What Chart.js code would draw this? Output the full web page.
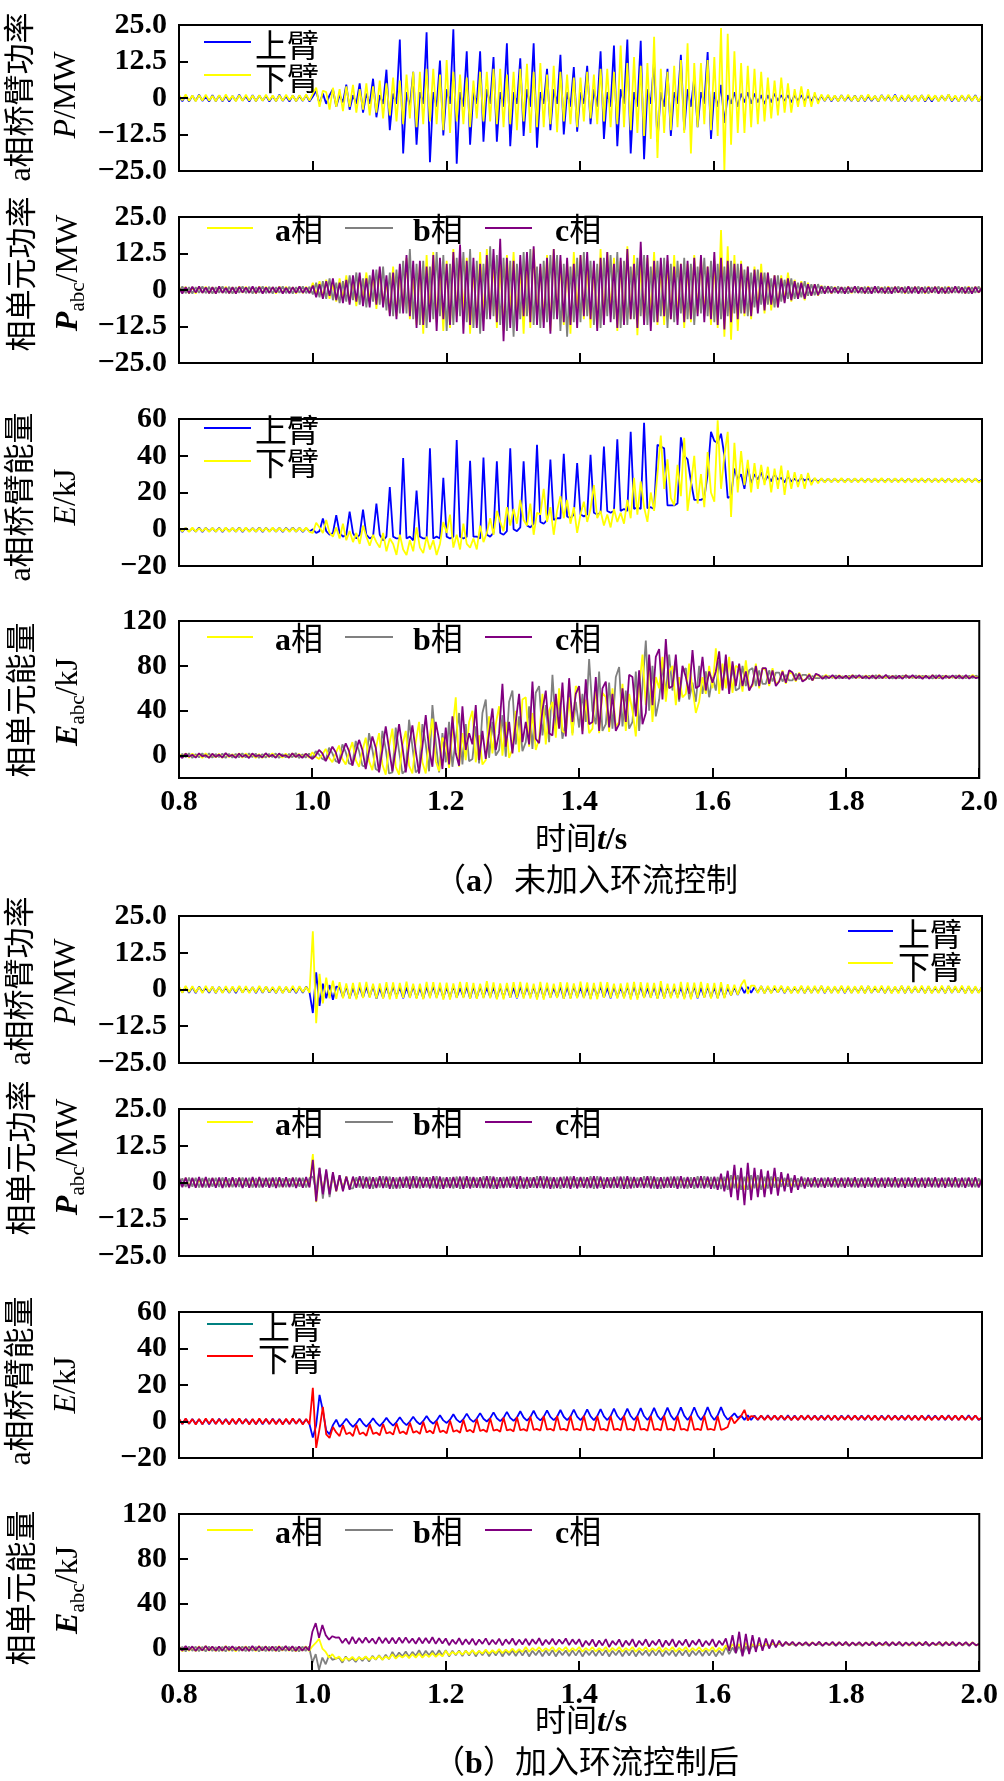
<!DOCTYPE html>
<html><head><meta charset="utf-8">
<script src="https://cdn.jsdelivr.net/npm/chart.js@4.4.0/dist/chart.umd.min.js"></script>
<style>
html,body{margin:0;padding:0;background:#fff}
body{width:1004px;height:1781px;position:relative;overflow:hidden}
.t{position:absolute;white-space:nowrap;line-height:1;color:#000}
.cj{font-family:"Noto Sans CJK SC","Noto Sans CJK JP",sans-serif;font-size:31px}
.sf{font-family:"Liberation Serif","Times New Roman",serif;font-size:32px}
.sa{font-family:"Liberation Serif","Times New Roman",serif;font-size:32px}
.rv{transform:translate(-50%,-50%) rotate(-90deg)}
.ct{transform:translate(-50%,-50%)}
.cap{font-size:32px}
.lg{transform:translateY(-50%);font-size:32px}
.ln{position:absolute;height:2px}
sub{font-size:21px;vertical-align:-7px;line-height:0}
</style></head>
<body>
<div id="texts">
<div class="t cj rv" style="left:18px;top:97px"><span class="sa">a</span>相桥臂功率</div>
<div class="t cj rv" style="left:18px;top:274px">相单元功率</div>
<div class="t cj rv" style="left:18px;top:497px"><span class="sa">a</span>相桥臂能量</div>
<div class="t cj rv" style="left:18px;top:700px">相单元能量</div>
<div class="t cj rv" style="left:18px;top:981px"><span class="sa">a</span>相桥臂功率</div>
<div class="t cj rv" style="left:18px;top:1158px">相单元功率</div>
<div class="t cj rv" style="left:18px;top:1381px"><span class="sa">a</span>相桥臂能量</div>
<div class="t cj rv" style="left:18px;top:1588px">相单元能量</div>
<div class="t sf rv" style="left:64px;top:95px"><i>P</i>/MW</div>
<div class="t sf rv" style="left:66px;top:273px"><b><i>P</i></b><sub>abc</sub>/MW</div>
<div class="t sf rv" style="left:64px;top:497px"><i>E</i>/kJ</div>
<div class="t sf rv" style="left:66px;top:702px"><b><i>E</i></b><sub>abc</sub>/kJ</div>
<div class="t sf rv" style="left:64px;top:982px"><i>P</i>/MW</div>
<div class="t sf rv" style="left:66px;top:1157px"><b><i>P</i></b><sub>abc</sub>/MW</div>
<div class="t sf rv" style="left:64px;top:1385px"><i>E</i>/kJ</div>
<div class="t sf rv" style="left:66px;top:1590px"><b><i>E</i></b><sub>abc</sub>/kJ</div>

<div class="t cj ct" style="left:581px;top:837px">时间<b class="sf"><i>t</i>/s</b></div>
<div class="t cj ct cap" style="left:586px;top:878px">（<b class="sf">a</b>）未加入环流控制</div>
<div class="t cj ct" style="left:581px;top:1719px">时间<b class="sf"><i>t</i>/s</b></div>
<div class="t cj ct cap" style="left:586px;top:1760px">（<b class="sf">b</b>）加入环流控制后</div>

<div class="ln" style="left:204px;top:41px;width:47px;background:#0000ff"></div>
<div class="t cj lg" style="left:255px;top:43px">上臂</div>
<div class="ln" style="left:204px;top:74px;width:47px;background:#ffff00"></div>
<div class="t cj lg" style="left:255px;top:76px">下臂</div>

<div class="ln" style="left:207px;top:227px;width:46px;background:#ffff00"></div>
<div class="t cj lg" style="left:275px;top:228px"><b class="sa">a</b>相</div>
<div class="ln" style="left:345px;top:227px;width:48px;background:#808080"></div>
<div class="t cj lg" style="left:413px;top:228px"><b class="sa">b</b>相</div>
<div class="ln" style="left:485px;top:227px;width:47px;background:#800080"></div>
<div class="t cj lg" style="left:555px;top:228px"><b class="sa">c</b>相</div>

<div class="ln" style="left:204px;top:427px;width:47px;background:#0000ff"></div>
<div class="t cj lg" style="left:255px;top:428px">上臂</div>
<div class="ln" style="left:204px;top:460px;width:47px;background:#ffff00"></div>
<div class="t cj lg" style="left:255px;top:461px">下臂</div>

<div class="ln" style="left:207px;top:636px;width:46px;background:#ffff00"></div>
<div class="t cj lg" style="left:275px;top:637px"><b class="sa">a</b>相</div>
<div class="ln" style="left:345px;top:636px;width:48px;background:#808080"></div>
<div class="t cj lg" style="left:413px;top:637px"><b class="sa">b</b>相</div>
<div class="ln" style="left:485px;top:636px;width:47px;background:#800080"></div>
<div class="t cj lg" style="left:555px;top:637px"><b class="sa">c</b>相</div>

<div class="ln" style="left:848px;top:930px;width:45px;background:#0000ff"></div>
<div class="t cj lg" style="left:898px;top:932px">上臂</div>
<div class="ln" style="left:848px;top:962px;width:45px;background:#ffff00"></div>
<div class="t cj lg" style="left:898px;top:965px">下臂</div>

<div class="ln" style="left:207px;top:1121px;width:46px;background:#ffff00"></div>
<div class="t cj lg" style="left:275px;top:1122px"><b class="sa">a</b>相</div>
<div class="ln" style="left:345px;top:1121px;width:48px;background:#808080"></div>
<div class="t cj lg" style="left:413px;top:1122px"><b class="sa">b</b>相</div>
<div class="ln" style="left:485px;top:1121px;width:47px;background:#800080"></div>
<div class="t cj lg" style="left:555px;top:1122px"><b class="sa">c</b>相</div>

<div class="ln" style="left:207px;top:1323px;width:46px;background:#008080"></div>
<div class="t cj lg" style="left:258px;top:1325px">上臂</div>
<div class="ln" style="left:207px;top:1355px;width:46px;background:#ff0000"></div>
<div class="t cj lg" style="left:258px;top:1357px">下臂</div>

<div class="ln" style="left:207px;top:1529px;width:46px;background:#ffff00"></div>
<div class="t cj lg" style="left:275px;top:1530px"><b class="sa">a</b>相</div>
<div class="ln" style="left:345px;top:1529px;width:48px;background:#808080"></div>
<div class="t cj lg" style="left:413px;top:1530px"><b class="sa">b</b>相</div>
<div class="ln" style="left:485px;top:1529px;width:47px;background:#800080"></div>
<div class="t cj lg" style="left:555px;top:1530px"><b class="sa">c</b>相</div>
</div>
<script>
// ---------- time axis (sample instants, 0.8 s .. 2.0 s every 5 ms) ----------
const T_START = 0.8, T_STEP = 0.005, N_SAMPLES = 241;
const X_TICKS = [0.8, 1.0, 1.2, 1.4, 1.6, 1.8, 2.0];
const Y_TICKS_P = [-25, -12.5, 0, 12.5, 25];
const Y_TICKS_E_ARM = [-20, 0, 20, 40, 60];
const Y_TICKS_E_PH = [0, 40, 80, 120];

// ---------- (a) without circulating-current control ----------
const a_P_up = [
0.6,-1.1,0.9,-1.2,0.8,-1.0,1.1,-1.0,0.5,-1.2,1.0,-1.1,0.9,-1.1,0.8,-1.2,0.7,-1.0,1.1,-0.9,0.6,-1.2,1.0,-1.1,0.9,-0.9,0.8,-1.2,0.7,-1.1,1.1,-1.0,0.6,-1.2,0.9,-1.1,0.8,-1.0,1.0,-1.2,
0.5,2.5,-2,1.5,-2,1,3,-3,1,-1.5,4.6,-4,1,-2,5,-5,1.5,-2,6.6,-6.6,1,-2,9.7,-11,1.5,-2,20,-19,2,-3,9,-16,2,-2,22.5,-22,2,-3,12.8,-12.8,
3,-2,23.5,-22.5,2,-3,16,-16,2,-2,16,-15,3,-2,14,-15,2,-3,18.7,-16.5,2,-2,13.6,-13,3,-3,18.7,-17,2,-2,10,-11,3,-2,14.8,-12.5,2,-3,10.6,-11.5,
2,-2,11,-9,3,-3,16,-14,2,-3,18,-16.5,3,-2,20,-19,2,-3,19.6,-21,3,-2,12.7,-15,2,-3,10,-13,2,-2,14.8,-11,3,-3,7,-10,2,-2,15.7,-14,
2,-3,4.5,-8.5,1,-2,2,-3,1.5,-1.5,2,-2,1.5,-1.5,1,-2,1,-1.5,1.5,-1,1,-1,1,-1.5,1,-1,1,-1,0.8,-1.1,1,-1,0.7,-1.0,0.9,-1.1,0.8,-1.1,1.0,-1.0,
0.6,-1.0,0.9,-1.2,0.9,-1.1,0.8,-1.0,0.7,-1.2,1.0,-0.9,0.8,-1.0,1.1,-1.1,0.6,-1.1,0.9,-1.0,0.9,-1.0,1.0,-1.2,0.7,-1.2,0.8,-1.0,0.8,-0.9,1.1,-1.1,0.6,-1.1,0.9,-1.0,0.9,-1.0,1.0,-1.2,
0.6];
const a_P_lo = [
1.0,-0.8,1.2,-1.0,0.9,-1.1,1.0,-0.9,1.1,-0.9,0.8,-1.1,1.0,-1.0,1.2,-0.8,0.8,-1.1,1.0,-1.0,1.1,-0.9,0.9,-1.1,1.0,-1.0,1.1,-0.9,0.9,-1.1,1.0,-1.0,1.1,-0.8,0.9,-1.1,1.0,-1.0,1.2,-0.9,
1.5,3.5,-3,2.5,2,-4,3.5,-3,3,-4.5,4,-3,4.5,-5,3,-4,5,-6,4,-5,6,-7,5,-6,7,-8,6,-9,8,-7,9,-10,9,-9,10,-8,10,-9,8,-11,
13,-12,9,-8,8,-9,7,-10,6,-7,9,-8,9,-8,10,-9,10,-10,8,-9,9,-11,10,-8,11.7,-12,9,-10,12,-10,8,-9,11,-11.7,9,-8,8,-9,7,-10,
7,-8,9,-7,8,-9,10,-8,10,-10,9,-9,18,-10,12,-11,14,-12,11,-13,12,-14,21,-20.5,10,-12,9,-11,11,-10,13,-12,18.7,-19,12,-10,12,-9,13,-11,
14,-13,24,-25,22,-16,16,-12,12,-12,11,-10,10,-9,9,-8,7,-7,6,-6,7,-5,5,-5,3,-3,4,-3,3,-3,2,-2,1.2,-1.0,1.1,-0.9,0.9,-1.1,1.0,-1.0,
1.1,-0.9,0.8,-1.1,1.0,-1.0,1.2,-0.8,0.8,-1.1,1.0,-1.0,1.1,-0.9,0.9,-1.1,1.0,-1.0,1.1,-0.9,0.9,-1.1,1.0,-1.0,1.1,-0.8,0.9,-1.1,1.0,-1.0,1.2,-0.9,0.9,-1.1,1.0,-1.0,1.1,-0.9,0.8,-1.1,
1.0];
const a_Pa = [
1.2,-1.0,1.1,-1.2,1.0,-1.2,1.2,-1.0,1.1,-1.1,1.0,-1.2,1.2,-1.0,1.1,-1.1,1.0,-1.2,1.2,-1.0,1.1,-1.0,1.0,-1.2,1.2,-1.1,1.1,-1.0,1.0,-1.2,1.2,-1.1,1.1,-1.0,1.0,-1.2,1.2,-1.1,1.1,-1.0,
2.5,-1.5,3,-2.5,3.5,-3,2,-4,4,-3,5,-4.5,3,-5.5,4.5,-3,6,-4,5,-6.5,7,-5,3,-8,8,-9,6,-7,11,-10,5,-12,9,-15,12,-8,13,-11,7,-14,
10,-13,14,-9,12,-8,11,-15,8,-12,13,-10,14,-9,10,-13,9,-14,12,-8,13,-10,8,-15,11,-13,14,-9,8,-11,12,-14,14,-9,10,-12,10,-15,13,-8,
12,-10,9,-13,9,-13,14,-11,13,-8,11,-14,10,-12,15,-10,12,-15.5,9,-11,11,-9,13,-12,8,-12,10,-10,12,-10,9,-13,9,-11,12,-8,11,-9,8,-12,
10,-13,20.5,-16,15,-17,12,-14,10,-9,8,-10,8,-7,9,-8,6,-7,5,-6,5,-4,6,-4,3.5,-3,3,-3.5,2.5,-2,2,-2,1.5,-1.2,1.3,-1.2,1.1,-1.0,1.0,-1.2,
1.2,-1.1,1.1,-1.0,1.0,-1.2,1.2,-1.1,1.1,-1.0,1.0,-1.2,1.2,-1.1,1.1,-1.0,1.0,-1.2,1.2,-1.0,1.1,-1.1,1.0,-1.2,1.2,-1.0,1.1,-1.1,1.0,-1.2,1.2,-1.0,1.1,-1.0,1.0,-1.2,1.2,-1.1,1.1,-1.0,
1.1];
const a_Pb = [
-1.0,1.2,-1.1,1.0,-1.2,1.0,-1.0,1.2,-1.1,1.1,-1.2,1.0,-1.0,1.2,-1.1,1.1,-1.2,1.0,-1.0,1.2,-1.1,1.1,-1.2,1.0,-1.0,1.2,-1.1,1.1,-1.2,1.0,-1.0,1.2,-1.1,1.1,-1.2,1.0,-1.0,1.2,-1.1,1.1,
-1.5,2.5,-2.5,3,-3,4,-3.5,2.5,-4.5,3,-4,5,-3.5,6,-5,4,-6,5,-4,7,-5,8,-7,6,-9,7,-8,10,-8,14,-10,9,-12,10,-13,8,-10,13,-9,12,
-14,9,-12,11,-9,13,-11,14,-13,10,-15,9,-10,15,-9,12,-12,11,-14,10,-16,9,-10,13,-9,14,-12,8,-13,10,-11,12,-10,12,-14,9,-16,8,-11,11,
-11,13,-9,10,-12,9,-13,11,-9,12,-10,13,-13,10,-12,8,-10,11,-9,12,-12,8,-11,10,-9,11,-13,9,-11,10,-8,11,-10,9,-12,8,-8,11,-9,10,
-11,9,-10,8,-9,10,-8,9,-8,7,-9,6,-6,7,-5,6,-5,4,-6,5,-4,3.5,-3,4,-3,2.5,-2.5,3,-2,2,-1.8,2,-1.2,1.3,-1.1,1.2,-1.0,1.2,-1.1,1.0,
-1.2,1.0,-1.0,1.2,-1.1,1.1,-1.2,1.0,-1.0,1.2,-1.1,1.1,-1.2,1.0,-1.0,1.2,-1.1,1.1,-1.2,1.0,-1.0,1.2,-1.1,1.1,-1.2,1.0,-1.0,1.2,-1.1,1.1,-1.2,1.0,-1.0,1.2,-1.1,1.1,-1.2,1.0,-1.0,1.2,
-1.0];
const a_Pc = [
0.8,-1.2,1.0,-1.1,1.1,-0.9,1.2,-1.0,0.9,-1.1,1.0,-1.2,1.2,-1.0,0.8,-1.1,1.0,-1.2,1.1,-0.9,0.9,-1.0,1.2,-1.1,1.1,-1.2,0.9,-1.0,1.0,-0.9,1.1,-1.2,0.8,-1.1,1.0,-1.0,1.2,-1.0,0.9,-1.1,
1.5,-2.5,2,-3,3,-2,4,-3.5,2.5,-4.5,3.5,-5,5,-4,6,-5.5,4,-6,7,-5,8,-6,5,-9,6,-10,9,-8,12,-9,10,-13,10,-12,8,-11,12,-14,11,-10,
9,-12,13,-11,15.6,-15,10,-12,11,-13,9,-14,12,-10,14,-11,17.5,-17.5,11,-13,10,-14,12,-9,13,-11,15,-12,9,-13,11,-15,14,-10,12,-11,11,-12,9,-13,
12,-9,13,-10,10,-14,11,-12,13,-11,9,-13,11,-12,14,-10,9,-13,16.5,-12,12,-14,10,-11,11,-9,12,-10,8,-12,9,-11,10,-10,11,-9,12,-11,8,-10,
13,-12,11,-13.5,10,-11,9,-10,9,-8,8,-9,7,-8,6,-7,6,-5,5,-6,4,-4.5,4,-3.5,3,-3,2.5,-3,2,-2,2,-1.8,1.3,-1.2,1.2,-1.1,0.9,-1.1,1.0,-1.2,
1.1,-0.9,1.2,-1.0,0.9,-1.1,1.0,-1.2,1.2,-1.0,0.8,-1.1,1.0,-1.2,1.1,-0.9,0.9,-1.0,1.2,-1.1,1.1,-1.2,0.9,-1.0,1.0,-0.9,1.1,-1.2,0.8,-1.1,1.0,-1.0,1.2,-1.0,0.9,-1.1,1.0,-1.2,1.1,-0.9,
0.9];
const a_E_up = [
0.6,-1.4,0.8,-1.2,0.5,-1.3,0.9,-1.4,0.7,-1.2,0.6,-1.3,0.8,-1.4,0.7,-1.2,0.6,-1.3,0.9,-1.4,0.7,-1.2,0.6,-1.3,0.9,-1.4,0.8,-1.2,0.6,-1.3,0.7,-1.4,0.8,-1.2,0.9,-1.3,0.7,-1.4,0.6,-1.2,
0,-2,-1,5.9,-1,-3,-2,7.6,-2,-4,-3,9.6,-2,-5,-3,10.7,-3,-5,-4,13.9,-3,-6,-4,23,-4,-5,-5,38.7,-5,-4,-6,21,-4,-5,-5,44,-5,-4,-5,28,
-4,-5,-4,48.6,-4,-5,-4,37.3,-4,-4,-5,39,-3,-4,-2,37,-2,-3,-1,44,0,-1,1,37,2,1,3,46,4,3,5,38,5,6,6,41,7,6,8,36,
8,7,8,40.5,9,8,9,45,10,9,10,49,10,11,10,53,11,12,11,58,11.5,12,11,46,45,44,13,13,13,14,50,40,38,26,16,16,16,17,30,53,
48,47,52,40,17,18,33,27,30,22,34,25,30,27,31,26,29,26,30,27,28,25.5,29,26,27.5,26,28,26.5,27.6,25.8,27.5,25.9,27.4,25.7,27.6,25.8,27.5,25.9,27.4,25.7,
27.6,25.8,27.5,25.9,27.4,25.7,27.6,25.8,27.5,25.9,27.4,25.7,27.6,25.8,27.5,25.9,27.4,25.7,27.6,25.8,27.5,25.9,27.4,25.7,27.6,25.8,27.5,25.9,27.4,25.7,27.6,25.8,27.5,25.9,27.4,25.7,27.6,25.8,27.5,25.9,
27.0];
const a_E_lo = [
0.8,-1.2,0.7,-1.4,0.9,-1.3,0.6,-1.2,0.7,-1.4,0.8,-1.3,0.6,-1.2,0.9,-1.4,0.8,-1.3,0.7,-1.2,0.9,-1.4,0.6,-1.3,0.7,-1.2,0.8,-1.4,0.9,-1.3,0.7,-1.2,0.6,-1.4,0.8,-1.3,0.7,-1.2,0.9,-1.4,
-2,3.5,1,-2,5,-2,-4,1,-5,3,-6,-1,-7,-2,-8,2,-4,-9,-3,-7,-10,-2,-12,-5,-8,-14,-3,-11,-14,-6,-12,1,-10,-13,-4,-11,-6,-14,-8,4,
-2,8,-10,-3,-11,3,-8,-10,-5,-11,2,-7,-2,6,-3,10,4,-1,12,2,11,3,16,5,2,14,-3,9,8,22,4,12,-3,10,18,6,16,3,12,-2,
8,15,4,11,24,6,10,2,8,1,11,4,9,3,16,6,28,8,26,12,4,20,10,30,51,22,38,17,13,35,18,49.8,10,24,40,14,30,12,42,20,
15,59.3,22,40,53,6.7,47,20,42.6,24,37.8,20,36,22,35,24,34,20,33,22,34.6,18.7,32,22,31,23,30,22,30.6,24,28,25,27.8,25.4,27.6,25.6,27.7,25.5,27.8,25.4,
27.6,25.6,27.7,25.5,27.8,25.4,27.6,25.6,27.7,25.5,27.8,25.4,27.6,25.6,27.7,25.5,27.8,25.4,27.6,25.6,27.7,25.5,27.8,25.4,27.6,25.6,27.7,25.5,27.8,25.4,27.6,25.6,27.7,25.5,27.8,25.4,27.6,25.6,27.7,25.5,
26.8];
const a_Ea = [
1.5,-1.5,2,-2,1.8,-1.2,1.6,-2.2,2,-1.8,1.4,-1.6,1.6,-2,1.9,-1.4,1.2,-1.7,2.1,-1.9,1.9,-1.3,1.5,-2.1,1.4,-2.2,1.8,-1.5,2.1,-1.6,1.3,-1.8,1.7,-1.9,2,-1.3,1.5,-1.4,1.8,-2.0,
3,-1,-3,1,6,-2,-6,2,9,-3,-8,3,12,-4,-10,4,16,-5,-13,6,20,-8,-17,8,24,-10,-17,9,22,-9,-16,12,30,-6,-16,14,33,-5,-14,16,
10,-11,22,52,-10,20,-4,30,40,-6,18,-8,-4,35,2,28,44,0,30,-2,6,40,3,50,52,8,38,5,15,55,10,40,48,16,60,22,20,52,18,62,
58,22,50,20,24,62,20,56,52,21,60,26,30,64,22,55,40,17,60,90,45,85,30,70,60,88,48,75,80,45,70,52,55,82,60,38,48,70,55,80,
60,95.6,55,82,60,88,56,80,78,57,85,60,62,82,60,78,76,62,78,64,66,76,64,74,73,66,74,67,68,73,67,72,71,69,72,69.5,70.5,68.8,71.6,69.2,
71.2,69.3,71.8,68.9,70.8,69,71.5,69.4,71.4,68.7,71.9,69.1,70.6,69.2,71.3,68.8,71.1,69.4,71.7,69,70.9,68.9,71.5,69.3,71.3,69.1,71.8,68.7,70.7,69.3,71.4,69,71,68.8,71.6,69.2,71.2,69,71.9,69.4,
70.5];
const a_Eb = [
-1.8,1.6,-1.4,2.0,-2.1,1.3,-1.7,1.9,-1.5,2.1,-1.9,1.4,-1.3,1.8,-2.2,1.6,-1.9,1.5,-1.6,2.1,-1.6,2,-1.3,1.7,-2,1.4,-1.8,1.5,-1.4,1.9,-2.1,1.3,-1.7,1.6,-1.5,2.2,-2.2,1.2,-1.9,1.8,
-2,4,1,-3,-4,7,2,-5,-6,10,3,-7,-8,13,4,-9,-10,20,5,-12,-14,22,6,-16,-15,25,4,-16,-13,32,8,-15,-12,28,10,-14,45,12,-15,20,
-6,30,-10,15,38,-8,28,-5,-3,26,-7,38,50,-2,30,0,5,36,-1,48,58,10,35,4,12,44,6,56,62,18,45,12,72,25,50,15,30,60,20,48,
25,55,30,86,40,28,75,22,28,65,24,70,79,26,58,24,30,75,22,62,102.6,40,80,35,50,80,55,90,58,85,48,75,78,50,65,48,80,55,75,52,
70,58,85,60,82,60,78,58,60,80,62,76,78,62,76,64,64,76,66,74,74,66,72,67,67,73,68,72,72,68,71,69,69,71,68.5,71,69.3,71.4,68.8,70.8,
68.9,71.2,69.1,71.5,69.4,70.9,68.6,71.3,69,71.6,68.9,70.7,69.2,71.1,68.7,71.4,68.8,71.3,69.3,70.9,69.1,71.5,68.9,71.2,69.3,70.8,68.6,71.6,68.9,71.2,69.2,71,69.4,71.4,68.8,70.9,69,71.1,69.1,71.3,
69.5];
const a_Ec = [
0.5,-2.2,1.8,-1.0,0.8,-1.9,2.0,-0.7,0.4,-2.1,1.6,-1.2,0.9,-1.8,2.2,-0.8,0.6,-2.0,1.7,-1.1,0.7,-2.2,1.9,-0.9,0.5,-1.7,2.1,-1.0,0.8,-2.0,1.8,-0.6,0.4,-1.9,2.0,-1.2,0.9,-2.1,1.6,-0.8,
-3,0,5,2,-5,1,8,3,-7,2,11,4,-9,3,14,5,-12,4,17,7,-15,5,26,6,-14,6,28,8,-15,10,27,4,-16,8,36,6,-10,30,14,-12,
25,-8,35,2,-9,44,5,20,10,45,-4,22,-3,20,42,5,20,64,8,30,2,30,55,12,30,10,66,15,11,40,58,20,18,55,24,65,17,69,30,55,
62,19,68,28,30,70,22,60,66,25,55,22,28,60,30,72,70,35,76,28,38,90,45,88,95,50,104,60,62,90,50,80,70,55,94,60,62,88,58,75,
65,75,93,58,90,55,84,62,82,62,75,58,64,80,62,78,78,64,76,62,66,75,65,76,74,67,73,66,68,72,67,73,71.5,68.5,71,69,71.8,68.7,71.2,68.9,
71.3,68.4,71.6,69.1,71.7,68.9,70.9,68.6,71.4,68.6,71.5,69,71.9,68.8,71.1,68.7,71.2,68.5,71.7,69.2,71.6,69,71,68.5,71.3,68.7,71.8,68.9,71.7,68.4,71.2,69.1,71.5,68.9,71.4,68.6,71.8,68.6,71,69,
70];

// ---------- (b) with circulating-current control ----------
const b_P_up = [
0.7,-1.0,0.9,-1.1,0.8,-1.2,1.0,-0.9,0.6,-1.1,0.9,-1.2,0.9,-1.0,0.7,-1.1,0.8,-1.2,1.0,-1.0,0.7,-0.9,0.8,-1.2,0.9,-1.1,1.0,-1.0,0.6,-1.2,0.9,-1.1,0.8,-1.0,0.7,-1.2,0.9,-1.1,1.0,-0.9,
-8,5.8,-5.6,2,-3,1.5,-3.5,1,0.8,-2.6,1.1,-3.0,0.6,-2.8,0.9,-2.7,0.9,-2.5,1.2,-3.1,0.5,-2.9,1.0,-2.6,1.0,-2.4,0.8,-3.0,0.7,-2.7,1.1,-2.8,0.6,-3.0,0.9,-2.5,1.1,-2.6,1.0,-2.9,
0.8,-2.8,1.2,-2.7,0.5,-2.5,0.9,-3.1,0.9,-2.9,1.1,-2.6,0.7,-2.6,0.8,-3.0,1.0,-2.7,1.2,-2.8,0.6,-3.0,1.0,-2.5,0.8,-2.5,0.9,-2.9,1.1,-2.8,1.1,-2.7,0.5,-2.6,1.0,-3.1,0.9,-2.9,1.2,-2.6,
0.7,-2.7,0.8,-3.0,1.0,-2.5,1.1,-2.8,0.6,-3.0,0.9,-2.6,0.8,-2.6,1.2,-2.9,1.1,-2.8,1.0,-2.7,0.5,-2.7,0.9,-3.0,0.9,-2.9,1.1,-2.5,0.7,-2.5,0.8,-2.8,1.0,-2.8,1.2,-3.0,0.6,-2.6,1.0,-2.7,
0.8,-2.9,0.9,-2.6,0.6,-2.0,0.8,-1.8,1.0,-1.2,0.9,-1.1,0.8,-1.0,1.1,-1.2,0.9,-1.1,0.7,-1.0,1.0,-1.2,0.8,-1.1,0.7,-1.0,1.0,-1.2,0.9,-1.1,0.8,-1.0,1.1,-1.2,0.9,-1.1,0.8,-1.0,1.0,-1.2,
0.9,-1.1,0.8,-1.0,1.0,-1.2,1.1,-1.1,0.7,-1.0,0.9,-1.2,0.9,-1.1,0.8,-1.0,1.1,-1.2,1.0,-1.1,0.8,-1.0,0.9,-1.2,1.0,-1.1,0.7,-1.0,0.9,-1.2,1.1,-1.1,0.8,-1.0,0.9,-1.2,1.0,-1.1,0.8,-1.0,
0.9];
const b_P_lo = [
1.0,-1.1,1.2,-0.9,1.1,-1.0,0.9,-1.2,1.2,-0.9,1.0,-1.1,0.9,-1.2,1.1,-1.0,1.0,-0.9,1.2,-1.1,1.1,-1.2,0.9,-1.0,1.2,-1.0,1.0,-0.9,0.9,-1.1,1.1,-1.2,1.0,-1.0,1.2,-1.0,1.1,-0.9,0.9,-1.1,
19.8,-11.5,5.3,-4.7,4,-3,3,-3.2,2.5,-3.0,2.1,-3.2,2.2,-3.3,2.4,-2.9,2.6,-2.8,2.0,-3.1,2.1,-3.1,2.5,-3.3,2.4,-3.2,2.2,-2.8,2.7,-2.9,2.0,-3.2,2.0,-3.3,2.6,-3.0,2.5,-3.0,2.3,-3.4,
2.3,-3.4,2.1,-2.9,2.6,-2.9,2.5,-3.2,2.2,-3.2,2.0,-3.0,2.8,-3.0,2.4,-3.3,2.1,-3.3,2.2,-2.8,2.5,-2.8,2.6,-3.1,2.3,-3.1,2.0,-3.4,2.6,-3.4,2.3,-2.9,2.0,-2.9,2.5,-3.2,2.4,-3.2,2.1,-3.0,
2.7,-3.0,2.4,-3.3,2.2,-3.3,2.6,-2.8,2.5,-2.8,2.0,-3.1,2.1,-3.1,2.3,-3.4,2.6,-3.4,2.5,-2.9,2.3,-2.9,2.2,-3.2,2.8,-3.2,2.0,-3.0,2.0,-3.0,2.6,-3.3,2.4,-3.3,2.3,-2.8,2.6,-2.8,2.1,-3.1,
2.2,-3.1,2.5,-3.0,1.8,-2.0,1.6,-1.8,1.5,3.3,-1.5,1.3,1.3,-1.2,1.2,-1.3,1.2,-1.3,1.3,-1.1,1.3,-1.1,1.1,-1.3,1.1,-1.3,1.3,-1.2,1.2,-1.2,1.2,-1.3,1.3,-1.1,1.1,-1.2,1.1,-1.3,1.3,-1.1,
1.2,-1.2,1.1,-1.3,1.3,-1.3,1.2,-1.1,1.1,-1.1,1.3,-1.2,1.2,-1.3,1.1,-1.3,1.3,-1.2,1.2,-1.1,1.1,-1.1,1.3,-1.3,1.2,-1.3,1.1,-1.2,1.3,-1.2,1.2,-1.1,1.1,-1.1,1.3,-1.3,1.2,-1.3,1.1,-1.2,
1.0];
const b_Pa = [
1.4,-1.2,1.5,-1.3,1.3,-1.5,1.2,-1.4,1.5,-1.3,1.4,-1.2,1.2,-1.4,1.3,-1.5,1.4,-1.2,1.5,-1.3,1.3,-1.5,1.2,-1.4,1.5,-1.3,1.4,-1.2,1.2,-1.4,1.3,-1.5,1.4,-1.2,1.5,-1.3,1.3,-1.5,1.2,-1.4,
9.7,-6.7,4,-3,3,-3,2.5,-3,2,-2,2,-2,1.5,-1.3,1.4,-1.6,1.3,-1.5,1.6,-1.4,1.6,-1.4,1.3,-1.5,1.4,-1.6,1.5,-1.3,1.5,-1.3,1.4,-1.6,1.3,-1.5,1.6,-1.4,1.6,-1.4,1.3,-1.5,
1.4,-1.6,1.5,-1.3,1.5,-1.3,1.4,-1.6,1.3,-1.5,1.6,-1.4,1.6,-1.4,1.3,-1.5,1.4,-1.6,1.5,-1.3,1.5,-1.3,1.4,-1.6,1.3,-1.5,1.6,-1.4,1.6,-1.4,1.3,-1.5,1.4,-1.6,1.5,-1.3,1.5,-1.3,1.4,-1.6,
1.3,-1.5,1.6,-1.4,1.6,-1.4,1.3,-1.5,1.4,-1.6,1.5,-1.3,1.5,-1.3,1.4,-1.6,1.3,-1.5,1.6,-1.4,1.6,-1.4,1.3,-1.5,1.4,-1.6,1.5,-1.3,1.5,-1.3,1.4,-1.6,1.3,-1.5,1.6,-1.4,1.6,-1.4,1.3,-1.5,
1.5,-1.6,1.8,-1.7,2,-2,2.5,-2,2.5,-2.5,2,-2.5,2,-2,2.5,-2,2,-1.8,1.8,-2,1.3,-1.2,1.2,-1.3,1.2,-1.3,1.3,-1.1,1.3,-1.1,1.1,-1.3,1.1,-1.3,1.3,-1.2,1.2,-1.2,1.2,-1.3,
1.3,-1.1,1.1,-1.2,1.1,-1.3,1.3,-1.1,1.2,-1.2,1.1,-1.3,1.3,-1.3,1.2,-1.1,1.1,-1.1,1.3,-1.2,1.2,-1.3,1.1,-1.3,1.3,-1.2,1.2,-1.1,1.1,-1.1,1.3,-1.3,1.2,-1.3,1.1,-1.2,1.3,-1.2,1.2,-1.1,
1.2];
const b_Pb = [
-1.6,1.4,-1.5,1.7,-1.4,1.6,-1.7,1.5,-1.7,1.5,-1.4,1.6,-1.5,1.7,-1.6,1.4,-1.6,1.4,-1.5,1.7,-1.4,1.6,-1.7,1.5,-1.7,1.5,-1.4,1.6,-1.5,1.7,-1.6,1.4,-1.6,1.4,-1.5,1.7,-1.4,1.6,-1.7,1.5,
2,-3,5,-5.5,4,-5,3,-2.5,2.5,-2.5,2,-2,-2,1.8,-1.7,2.1,-1.9,2.0,-2.1,1.7,-1.7,2.1,-1.8,2.0,-2.1,1.7,-2.0,1.9,-1.8,2.0,-1.9,2.1,-2.0,1.9,-1.7,1.8,-1.9,2.1,-2.1,1.7,
-1.7,1.8,-2.0,2.0,-2.1,2.0,-1.8,1.9,-1.8,1.7,-1.9,2.1,-2.0,2.1,-2.1,1.8,-1.9,1.9,-1.7,2.0,-1.7,2.0,-2.0,1.7,-2.1,1.8,-1.8,2.1,-1.8,2.1,-1.9,1.9,-2.0,1.7,-2.1,2.0,-1.9,2.0,-1.7,1.8,
-1.7,1.9,-2.0,2.1,-2.1,2.1,-1.8,1.7,-1.8,1.8,-1.9,2.0,-2.0,2.0,-2.1,1.9,-1.9,1.7,-1.7,2.1,-1.7,2.1,-2.0,1.8,-2.1,1.9,-1.8,2.0,-1.8,2.0,-1.9,1.7,-2.0,1.8,-2.1,2.1,-1.9,2.1,-1.7,1.9,
-2.0,1.9,-2.2,2.0,-2.5,2.5,-2,2.5,-2.5,2,-2.5,2.5,-2,2.5,-2.5,2,-2,2,-1.8,1.8,-1.5,1.6,-1.4,1.5,-1.6,1.4,-1.5,1.6,-1.4,1.5,-1.6,1.4,-1.5,1.6,-1.4,1.5,-1.6,1.4,-1.5,1.6,
-1.4,1.5,-1.6,1.4,-1.5,1.6,-1.4,1.5,-1.6,1.4,-1.5,1.6,-1.4,1.5,-1.6,1.4,-1.5,1.6,-1.4,1.5,-1.6,1.4,-1.5,1.6,-1.4,1.5,-1.6,1.4,-1.5,1.6,-1.4,1.5,-1.6,1.4,-1.5,1.6,-1.4,1.5,-1.6,1.4,
-1.4];
const b_Pc = [
1.8,-1.6,1.7,-1.9,1.6,-1.8,1.9,-1.7,1.9,-1.7,1.6,-1.8,1.7,-1.9,1.8,-1.6,1.8,-1.6,1.7,-1.9,1.6,-1.8,1.9,-1.7,1.9,-1.7,1.6,-1.8,1.7,-1.9,1.8,-1.6,1.8,-1.6,1.7,-1.9,1.6,-1.8,1.9,-1.7,
7.7,-6.4,5,-4,4.5,-4,3.5,-3,2.5,-3,2,-2.5,2.0,-1.8,2.1,-2.0,1.9,-2.1,1.8,-1.9,2.1,-1.9,2.0,-2.1,1.8,-2.0,1.9,-1.8,2.0,-2.1,2.1,-1.9,1.9,-1.8,1.8,-2.0,2.1,-2.0,2.0,-2.1,
1.8,-1.9,1.9,-1.8,2.0,-2.1,2.1,-2.0,1.9,-1.8,1.8,-1.9,2.1,-2.0,2.0,-2.1,1.8,-1.9,1.9,-1.8,2.0,-2.1,2.1,-2.0,1.9,-1.8,1.8,-1.9,2.1,-2.0,2.0,-2.1,1.8,-1.9,1.9,-1.8,2.0,-2.1,2.1,-2.0,
1.9,-1.8,1.8,-1.9,2.1,-2.0,2.0,-2.1,1.8,-1.9,1.9,-1.8,2.0,-2.1,2.1,-2.0,1.9,-1.8,1.8,-1.9,2.1,-2.0,2.0,-2.1,1.8,-1.9,1.9,-1.8,2.0,-2.1,2.1,-2.0,1.9,-1.8,1.8,-1.9,2.1,-2.0,2.0,-2.1,
2,-2.5,3,-3,4,-5,6,-6,5,-7.7,6.7,-6,5,-5,4.5,-5,4,-4,5,-4.5,3.5,-3,3,-3.5,2.5,-2.5,2,-2,1.7,-1.6,1.8,-1.7,1.6,-1.8,1.7,-1.6,1.8,-1.7,1.6,-1.8,
1.7,-1.6,1.8,-1.7,1.6,-1.8,1.7,-1.6,1.8,-1.7,1.6,-1.8,1.7,-1.6,1.8,-1.7,1.6,-1.8,1.7,-1.6,1.8,-1.7,1.6,-1.8,1.7,-1.6,1.8,-1.7,1.6,-1.8,1.7,-1.6,1.8,-1.7,1.6,-1.8,1.7,-1.6,1.8,-1.7,
1.5];
const b_E_up = [
1.2,-1.4,1.5,-1.2,1.4,-1.3,1.2,-1.5,1.3,-1.5,1.4,-1.3,1.5,-1.2,1.3,-1.4,1.2,-1.4,1.5,-1.2,1.4,-1.3,1.2,-1.5,1.3,-1.5,1.4,-1.3,1.5,-1.2,1.3,-1.4,1.2,-1.4,1.5,-1.2,1.4,-1.3,1.2,-1.5,
-8.8,-2,14.6,6,-5,-7,-2,1,-3,-1,1.5,-1,-3,-1,1.6,-1,-2.8,-0.8,1.8,-0.8,-2.5,-0.5,2,-0.5,-2.3,-0.3,2.3,-0.3,-2,0,2.6,0,-1.6,0.3,3,0.3,-1.2,0.6,3.4,0.6,
-0.8,1,4,1,-0.5,1.3,4.3,1.3,-0.2,1.6,4.6,1.5,0,1.8,5,1.8,0.2,2,5.3,2,0.4,2.2,5.6,2.2,0.5,2.4,5.9,2.3,0.6,2.5,6.1,2.5,0.7,2.6,6.3,2.6,0.8,2.7,6.5,2.7,
0.8,2.8,6.7,2.8,0.8,2.9,6.8,2.8,0.8,3,7,3,0.8,3,7.1,3,0.8,3.1,7.3,3,0.8,3.2,7.5,3.1,0.8,3.2,7.6,3.2,0.8,3.3,7.7,3.2,0.8,3.3,7.8,3.3,0.8,3.4,7.9,3.3,
0.8,3.4,7.9,3.4,1,2.5,4.5,2,3.2,0.9,3.4,0.8,3.3,0.8,3.2,1.0,3.4,1.0,3.3,0.9,3.2,0.9,3.4,0.8,3.3,0.8,3.2,1.0,3.4,1.0,3.3,0.9,3.2,0.9,3.4,0.8,3.3,0.8,3.2,1.0,
3.4,1.0,3.3,0.9,3.2,0.9,3.4,0.8,3.3,0.8,3.2,1.0,3.4,1.0,3.3,0.9,3.2,0.9,3.4,0.8,3.3,0.8,3.2,1.0,3.4,1.0,3.3,0.9,3.2,0.9,3.4,0.8,3.3,0.8,3.2,1.0,3.4,1.0,3.3,0.9,
2.0];
const b_E_lo = [
1.5,-1.4,1.6,-1.2,1.3,-1.6,1.4,-1.5,1.6,-1.2,1.5,-1.4,1.4,-1.5,1.3,-1.6,1.5,-1.4,1.6,-1.2,1.3,-1.6,1.4,-1.5,1.6,-1.2,1.5,-1.4,1.4,-1.5,1.3,-1.6,1.5,-1.4,1.6,-1.2,1.3,-1.6,1.4,-1.5,
18.4,-14.5,-4,8,-7,-9,-3,-6,-8,-2,-7,-6,-8,-1.8,-7,-6,-7.8,-1.6,-6.8,-6,-7.5,-1.4,-6.6,-5.8,-7.2,-1,-6.4,-5.5,-7,-0.6,-6.2,-5.3,-6.8,-0.2,-6,-5,-6.6,0.2,-5.8,-5,
-6.4,0.6,-5.6,-4.8,-6.2,1,-5.4,-4.6,-6,1.4,-5.2,-4.5,-5.8,1.8,-5,-4.4,-5.6,2.2,-4.9,-4.3,-5.4,2.5,-4.8,-4.2,-5.2,2.8,-4.6,-4.1,-5,3,-4.5,-4,-5.1,3.1,-4.4,-4,-5,3,-4.6,-4.1,
-4.9,3.2,-4.5,-4,-5,3,-4.4,-4.1,-5.1,3.1,-4.6,-4,-4.9,3.2,-4.5,-4.1,-5,3,-4.4,-4,-5.1,3.1,-4.6,-4.1,-4.9,3.2,-4.5,-4,-5,3,-4.4,-4.1,-5.1,3.1,-4.6,-4,-4.8,3.2,-4.5,-4.1,
-4.8,3,-4.6,-4,-3,2.5,-1,1,3,6.4,0.5,3,2.8,1,3.3,0.9,3.1,0.8,3.2,1,3.3,1,3,0.8,2.9,0.9,3.3,1,3.2,0.8,3.1,0.9,3,1,3.3,0.8,3.3,0.9,2.9,1,
3.1,0.8,3.2,1,2.9,1,3.3,0.9,3.2,0.9,3,0.8,3.3,0.8,3.1,1,3,1,3.2,0.9,3.1,0.9,3.3,0.8,2.9,0.8,3,1,3.2,1,3.1,0.9,3.3,0.9,3.2,0.8,3,0.8,3.3,1,
2.2];
const b_Ea = [
2,-2.5,1.8,-2.2,1.6,-2.3,2.1,-1.9,2.2,-2.0,1.7,-2.4,1.9,-2.2,2.3,-2.1,1.7,-2.5,1.9,-2.0,2.1,-2.1,1.6,-2.3,2.3,-1.9,2.0,-2.2,1.8,-2.4,2.2,-2.0,2.0,-2.2,1.8,-2.5,1.9,-2.0,2.1,-2.1,
2,5,8.7,0,-3,-8,-5,-9,-7,-11,-8,-10,-7.5,-10.5,-8,-9.5,-7,-10,-7.5,-9.5,-6.5,-10,-7,-9,-5,-9,-6,-8,-5.5,-8.5,-5,-8,-4.5,-8,-5,-7.5,-4,-7.5,-4.5,-7,
-2,-6,-3,-5,-2.5,-5.5,-2,-5,-1.5,-5,-2,-4.5,-1,-4.5,-1.5,-4,-0.5,-4,-1,-3.5,0,-3.5,-0.5,-3,1.4,-2.8,0.5,-2,1.2,-2.6,0.4,-2.2,1.4,-2.8,0.6,-2,1.3,-2.7,0.5,-2.1,
1.4,-2.8,0.5,-2,1.2,-2.6,0.4,-2.2,1.4,-2.8,0.6,-2,1.3,-2.7,0.5,-2.1,1.4,-2.8,0.5,-2,1.2,-2.6,0.4,-2.2,1.4,-2.8,0.6,-2,1.3,-2.7,0.5,-2.1,1.4,-2.8,0.5,-2,1.2,-2.6,0.4,-2.2,
1.4,-2.8,0.6,-2,3,-1,4,0,4,-2,5,0,4,1,4.5,1.5,4.5,2,5,2.5,5,3,5.5,3,5.4,2.8,5.2,3.1,5.1,3.2,5.6,2.9,5.5,2.9,5.3,3.2,5.2,3.1,5.6,2.8,
5.4,3.0,5.2,3.1,5.1,2.8,5.6,2.9,5.5,3.2,5.3,3.0,5.2,2.9,5.6,3.1,5.4,3.1,5.2,2.8,5.1,3.0,5.6,3.2,5.5,2.8,5.3,2.9,5.2,3.2,5.6,3.0,5.4,2.9,5.2,3.1,5.1,3.1,5.6,2.8,
4.2];
const b_Eb = [
-2.2,1.5,-2.6,1.8,-2.0,1.7,-2.4,1.6,-2.5,1.9,-2.1,1.4,-2.3,1.6,-2.6,1.8,-2.1,1.4,-2.2,1.9,-2.4,1.8,-2.0,1.5,-2.6,1.5,-2.3,1.7,-2.2,1.9,-2.5,1.6,-2.0,1.6,-2.4,1.4,-2.5,1.7,-2.1,1.8,
-12.6,-5,-19,-8,-14,-6,-10,-9,-8,-12.6,-7,-11,-8.5,-12,-7.5,-11,-7,-11.5,-6.5,-10,-6,-10,-5.5,-9.5,-3,-8,-3.5,-7,-2.5,-7.5,-3,-6.5,-1.4,-7,-2,-6,-2,-6.5,-1.5,-6.2,
-1.4,-7,-2,-6,-1.8,-6.6,-1.6,-6.3,-1.4,-7,-2,-6,-1.6,-6.8,-1.8,-6.1,-1.4,-7,-2,-6,-1.8,-6.6,-1.6,-6.3,-1.4,-7,-2,-6,-1.6,-6.8,-1.8,-6.1,-1.4,-7,-2,-6,-1.8,-6.6,-1.6,-6.3,
-1.4,-7,-2,-6,-1.8,-6.6,-1.6,-6.3,-1.4,-7,-2,-6,-1.6,-6.8,-1.8,-6.1,-1.4,-7,-2,-6,-1.8,-6.6,-1.6,-6.3,-1.4,-7,-2,-6,-1.6,-6.8,-1.8,-6.1,-1.4,-7,-2,-6,-1.8,-6.6,-1.6,-6.3,
-1.4,-7,-2,-6,2,-5,1,-4,3,-6,2,-3,3,0,4,1,4,2,4.5,2.5,4.5,2.5,5,3,4.4,2.6,4.9,2.8,4.6,2.4,5.1,3.1,4.3,2.7,4.8,2.9,4.7,2.5,5,3.0,
4.5,2.6,4.9,2.8,4.4,2.4,5.1,3.1,4.6,2.7,4.8,2.9,4.3,2.5,5,3.0,4.7,2.6,4.9,2.8,4.5,2.4,5.1,3.1,4.4,2.7,4.8,2.9,4.6,2.5,5,3.0,4.3,2.6,4.9,2.8,4.7,2.4,5.1,3.1,
3.8];
const b_Ec = [
1.5,-1.8,2.2,-1.5,1.9,-2.1,1.6,-1.7,2.3,-1.6,1.8,-2.0,1.7,-1.9,2.1,-1.4,2.0,-1.5,1.5,-1.9,1.6,-2.2,2.2,-1.6,2.1,-1.7,1.9,-1.8,1.8,-2.0,1.7,-1.5,2.2,-1.6,2.0,-2.1,1.7,-1.8,1.6,-1.7,
15,22.7,9.7,21,12,8,11,9.7,10,5,9,4,10.5,4.5,9.5,5,9.8,5.2,9,4.2,10.2,4.8,9.4,4.6,9.6,4.4,9.8,5,10,5,9,4.3,9.7,4.6,9.5,4.8,10.1,4.2,9.2,4.5,
9,3,8,4,9.2,3.4,8.3,3.8,8.8,3.1,8.1,4.2,9.1,3.3,7.8,3.9,8.9,2.8,8.2,4.1,9,3.2,8,3.7,8.7,3,8.3,4,9.2,2.9,7.9,3.8,8.8,3.3,8.1,4.2,9,3.1,8.2,3.9,
8.4,1.5,7,3,8.2,1.8,7.2,2.8,8.4,1.4,6.8,3.2,8.1,1.6,7.1,2.9,8.4,1.5,7,3,8.3,1.7,6.9,3.1,8.2,1.4,7.2,2.8,8.4,1.6,7,3,8.1,1.5,7.1,3.2,8.3,1.8,6.9,2.9,
8.4,1.5,7,3,9,-2,12,-4,15,-7,13,-5,12,-3,10,-2,9,0,8,1,7,2,6,3,6,2.5,5.5,3,5.8,2.7,5.6,2.9,6.1,2.4,5.4,3.1,5.9,2.6,5.7,2.8,
6,2.5,5.5,3,5.8,2.7,5.6,2.9,6.1,2.4,5.4,3.1,5.9,2.6,5.7,2.8,6,2.5,5.5,3,5.8,2.7,5.6,2.9,6.1,2.4,5.4,3.1,5.9,2.6,5.7,2.8,6,2.5,5.5,3,5.8,2.7,5.6,2.9,
4.3];

// ---------- drawing ----------
const TIME = Array.from({length: N_SAMPLES}, (_, i) => Math.round((T_START + T_STEP * i) * 1000) / 1000);
const C_BLUE = '#0000ff', C_YEL = '#ffff00', C_GRAY = '#808080', C_PUR = '#800080', C_RED = '#ff0000';
const PLOT_L = 179, PLOT_R = 982, PAGE_W = 1004;
const TICK_FONT = {family: "'Liberation Serif','Times New Roman',serif", size: 30, weight: 'bold'};
const fmtP = v => v === 0 ? '0' : (v < 0 ? '\u2212' : '') + Math.abs(v).toFixed(1);
const fmtE = v => (v < 0 ? '\u2212' : '') + Math.abs(v);

const PANELS = [
  {top: 15,   bottom: 181,  yMin: -25, yMax: 25,  yTicks: Y_TICKS_P,     fmt: fmtP, showX: false, series: [[a_P_lo, C_YEL], [a_P_up, C_BLUE]]},
  {top: 207,  bottom: 373,  yMin: -25, yMax: 25,  yTicks: Y_TICKS_P,     fmt: fmtP, showX: false, series: [[a_Pc, C_PUR], [a_Pb, C_GRAY], [a_Pa, C_YEL]]},
  {top: 409,  bottom: 576,  yMin: -20, yMax: 60,  yTicks: Y_TICKS_E_ARM, fmt: fmtE, showX: false, series: [[a_E_lo, C_YEL], [a_E_up, C_BLUE]]},
  {top: 611,  bottom: 778,  yMin: -20, yMax: 120, yTicks: Y_TICKS_E_PH,  fmt: fmtE, showX: true,  series: [[a_Ec, C_PUR], [a_Ea, C_YEL], [a_Eb, C_GRAY]]},
  {top: 906,  bottom: 1073, yMin: -25, yMax: 25,  yTicks: Y_TICKS_P,     fmt: fmtP, showX: false, series: [[b_P_lo, C_YEL], [b_P_up, C_BLUE]]},
  {top: 1099, bottom: 1266, yMin: -25, yMax: 25,  yTicks: Y_TICKS_P,     fmt: fmtP, showX: false, series: [[b_Pc, C_PUR], [b_Pb, C_GRAY], [b_Pa, C_YEL]]},
  {top: 1302, bottom: 1468, yMin: -20, yMax: 60,  yTicks: Y_TICKS_E_ARM, fmt: fmtE, showX: false, series: [[b_E_lo, C_RED], [b_E_up, C_BLUE]]},
  {top: 1504, bottom: 1671, yMin: -20, yMax: 120, yTicks: Y_TICKS_E_PH,  fmt: fmtE, showX: true,  series: [[b_Ec, C_PUR], [b_Ea, C_YEL], [b_Eb, C_GRAY]]}
];

const framePlugin = {
  id: 'frameTicks',
  afterDraw(chart) {
    const {ctx, chartArea: a, scales: {x, y}} = chart;
    ctx.save();
    ctx.strokeStyle = '#000';
    ctx.lineWidth = 2;
    ctx.beginPath();
    y.ticks.forEach(t => { const py = Math.round(y.getPixelForValue(t.value)); ctx.moveTo(a.left, py); ctx.lineTo(a.left + 9, py); });
    x.ticks.forEach(t => { const px = Math.round(x.getPixelForValue(t.value)); ctx.moveTo(px, a.bottom); ctx.lineTo(px, a.bottom - 10); });
    ctx.stroke();
    ctx.strokeRect(a.left, a.top, a.right - a.left, a.bottom - a.top);
    ctx.restore();
  }
};

const textLayer = document.getElementById('texts');
PANELS.forEach(p => {
  p.series.forEach(([arr]) => { if (arr.length !== N_SAMPLES) console.warn('length', arr.length); });
  const padTop = 20, h = p.bottom - p.top, xh = p.showX ? 52 : 20;
  const cv = document.createElement('canvas');
  cv.width = PAGE_W; cv.height = padTop + h + xh;
  cv.style.cssText = `position:absolute;left:0;top:${p.top - padTop}px;width:${PAGE_W}px;height:${cv.height}px`;
  document.body.insertBefore(cv, textLayer);
  new Chart(cv, {
    type: 'line',
    data: {datasets: p.series.map(([arr, col]) => ({
      data: arr.map((v, i) => ({x: TIME[i], y: v})),
      borderColor: col, borderWidth: 1.8, pointRadius: 0, tension: 0, borderJoinStyle: 'bevel', fill: false
    }))},
    options: {
      responsive: false, animation: false, devicePixelRatio: 1, events: [],
      layout: {padding: {top: padTop, right: PAGE_W - PLOT_R, left: 0, bottom: 0}},
      plugins: {legend: {display: false}, tooltip: {enabled: false}},
      scales: {
        x: {type: 'linear', min: 0.8, max: 2.0,
            afterBuildTicks: s => { s.ticks = X_TICKS.map(v => ({value: v})); },
            afterFit: s => { s.height = xh; },
            grid: {display: false, drawTicks: false}, border: {display: false},
            ticks: {display: p.showX, autoSkip: false, maxRotation: 0, padding: 6, color: '#000', font: TICK_FONT,
                    callback: v => Number(v).toFixed(1)}},
        y: {min: p.yMin, max: p.yMax,
            afterBuildTicks: s => { s.ticks = p.yTicks.map(v => ({value: v})); },
            afterFit: s => { s.width = PLOT_L; },
            grid: {display: false, drawTicks: false}, border: {display: false},
            ticks: {padding: 12, color: '#000', font: TICK_FONT, callback: p.fmt}}
      }
    },
    plugins: [framePlugin]
  });
});
</script>
</body></html>
